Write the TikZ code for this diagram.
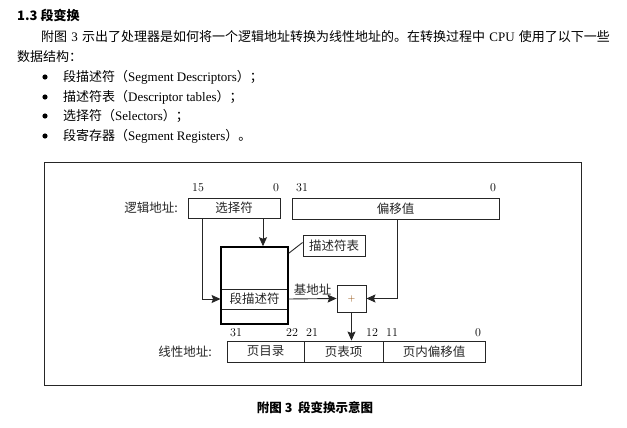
\documentclass[tikz,border=0pt]{standalone}
\usepackage{fontspec}
\newfontfamily\cjk{Noto Sans CJK SC}
\newfontfamily\tnr{Liberation Serif}
\usetikzlibrary{arrows.meta}
\begin{document}
\begin{tikzpicture}[x=1pt,y=-1pt,
  body/.style={anchor=west,inner sep=0pt,font=\fontsize{13}{15}\selectfont},
  lbl/.style={inner sep=0pt,font=\cjk\fontsize{12.5}{14}\selectfont,text=black!85},
  num/.style={inner sep=0pt,font=\fontsize{12}{13}\selectfont,text=black},
  fieldbox/.style={draw=black!85,line width=0.9pt,inner sep=0pt,
    font=\cjk\fontsize{12.5}{14}\selectfont,text=black!85},
  link/.style={draw=black!85,line width=0.9pt},
  arr/.style={link,-{Stealth[length=9pt,width=8pt,inset=1.5pt]}}
]
\useasboundingbox (0,0) rectangle (627,428);

% section heading and introductory text
\node[body,font=\cjk\bfseries\fontsize{13}{15}\selectfont] (head) at (17,15) {1.3 段变换};
\node[body] (p1) at (41,37) {{\cjk 附图} {\tnr 3} {\cjk 示出了处理器是如何将一个逻辑地址转换为线性地址的。在转换过程中} {\tnr CPU} {\cjk 使用了以下一些}};
\node[body] (p2) at (17,57) {\cjk 数据结构：};
\foreach \y/\t/\e [count=\i] in {
  77/段描述符/Segment Descriptors,
  97/描述符表/Descriptor tables,
  116/选择符/Selectors} {
  \fill (45,\y) circle (2.6pt);
  \node[body] (item\i) at (63,\y) {{\cjk \t（}{\tnr \e}{\cjk ）；}};
}
\fill (45,136) circle (2.6pt);
\node[body] (item4) at (63,136) {{\cjk 段寄存器（}{\tnr Segment Registers}{\cjk ）。}};

% figure frame
\draw[black!85,line width=1pt] (44,162) rectangle (581,385);

% logical address
\node[lbl,anchor=east] (lalabel) at (178,208) {逻辑地址:};
\node[fieldbox,minimum width=92pt,minimum height=20pt] (sel) at (234,208) {选择符};
\node[fieldbox,minimum width=207pt,minimum height=21pt] (off) at (395.5,208.5) {偏移值};
\node[num] (n15) at (198,188) {15};
\node[num] (n0a) at (276,188) {0};
\node[num] (n31a) at (302,188) {31};
\node[num] (n0b) at (493,188) {0};

% descriptor table with the selected descriptor
\node[fieldbox,minimum width=67pt,minimum height=20pt] (row) at (254.5,299) {段描述符};
\node[draw=black,line width=1.5pt,inner sep=0pt,minimum width=67pt,minimum height=77pt] (tbl) at (254.5,285.5) {};
\node[fieldbox,minimum width=62pt,minimum height=21pt] (dtab) at (334,245.5) {描述符表};
\draw[link] ([yshift=-7pt]tbl.north east) -- ([yshift=3pt]dtab.west);

% adder
\node[fieldbox,minimum width=29pt,minimum height=27pt,font=\fontsize{10}{11}\selectfont,text=orange!55!black] (plus) at (351.5,298.5) {+};

% linear address
\node[lbl,anchor=east] (lnlabel) at (212,352) {线性地址:};
\node[fieldbox,minimum width=77pt,minimum height=21pt] (pd) at (265.5,351.5) {页目录};
\node[fieldbox,minimum width=79pt,minimum height=21pt] (pt) at (343.5,351.5) {页表项};
\node[fieldbox,minimum width=102pt,minimum height=21pt] (po) at (434,351.5) {页内偏移值};
\node[num] (n31b) at (236,333) {31};
\node[num] (n22) at (292,333) {22};
\node[num] (n21) at (312,333) {21};
\node[num] (n12) at (372,333) {12};
\node[num] (n11) at (392,333) {11};
\node[num] (n0c) at (478,333) {0};

% connectors
\draw[arr] (sel.south -| 263,0) -- (tbl.north -| 263,0);
\draw[arr] (sel.south -| 202,0) |- (row.west);
\draw[arr] (row.east) -- node[lbl,above=3pt] (base) {基地址} (plus.west);
\draw[arr] (off.south -| 397,0) |- (plus.east);
\draw[arr] (plus.south) -- (pt.north -| plus.south);

% caption
\node[inner sep=0pt,font=\cjk\bfseries\fontsize{12.5}{14}\selectfont] (cap) at (315,408) {附图 3\ \ 段变换示意图};
\end{tikzpicture}
\end{document}
